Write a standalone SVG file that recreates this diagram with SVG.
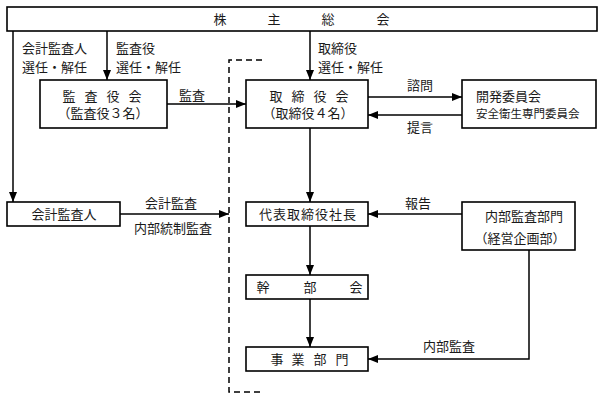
<svg xmlns="http://www.w3.org/2000/svg" width="603" height="400" viewBox="0 0 603 400">
<defs>
<marker id="ah" markerUnits="userSpaceOnUse" markerWidth="10" markerHeight="10" viewBox="0 0 10 10" refX="10" refY="5" orient="auto">
<path d="M0,1 L10,5 L0,9 Z" fill="#000"/>
</marker>
</defs>
<style>
.box{fill:#fff;stroke:#000;stroke-width:1.6}
.ln{fill:none;stroke:#000;stroke-width:1.5}
.dash{fill:none;stroke:#000;stroke-width:1.5;stroke-dasharray:6 4}
text{font-family:"Liberation Serif","Noto Sans CJK JP",serif;font-size:13px;fill:#1a1a1a;dominant-baseline:central}
.m{text-anchor:middle}
.s{font-size:11.5px}
</style>
<rect width="603" height="400" fill="#fff"/>
<g id="connectors">
<path class="dash" d="M262,60 H229 V392 H262"/>
<path class="ln" d="M13,31 V202" marker-end="url(#ah)"/>
<path class="ln" d="M107,31 V80" marker-end="url(#ah)"/>
<path class="ln" d="M310,31 V80" marker-end="url(#ah)"/>
<path class="ln" d="M167,104 H246" marker-end="url(#ah)"/>
<path class="ln" d="M368,97 H462" marker-end="url(#ah)"/>
<path class="ln" d="M462,115 H368" marker-end="url(#ah)"/>
<path class="ln" d="M310,128 V202" marker-end="url(#ah)"/>
<path class="ln" d="M120,214 H229" marker-end="url(#ah)"/>
<path class="ln" d="M462,214 H368" marker-end="url(#ah)"/>
<path class="ln" d="M310,226 V275" marker-end="url(#ah)"/>
<path class="ln" d="M310,299 V347" marker-end="url(#ah)"/>
<path class="ln" d="M529,250 V359 H368" marker-end="url(#ah)"/>
<text x="22" y="48">会計監査人</text>
<text x="22" y="67">選任・解任</text>
<text x="116" y="48">監査役</text>
<text x="116" y="67">選任・解任</text>
<text x="318" y="48">取締役</text>
<text x="318" y="67">選任・解任</text>
<text class="m" x="192" y="95">監査</text>
<text class="m" x="420" y="85">諮問</text>
<text class="m" x="420" y="127">提言</text>
<text class="m" x="171" y="203">会計監査</text>
<text class="m" x="173" y="228">内部統制監査</text>
<text class="m" x="418" y="203">報告</text>
<text class="m" x="449" y="346">内部監査</text>
</g>
<g id="shareholders">
<rect class="box" x="7" y="7" width="590" height="24"/>
<text class="m" x="220 274 328 383" y="19">株主総会</text>
</g>
<g id="kansayakukai">
<rect class="box" x="40" y="80" width="127" height="48"/>
<text class="m" x="69 91 113 135" y="96">監査役会</text>
<text class="m" x="103" y="113">（監査役３名）</text>
</g>
<g id="torishimariyakukai">
<rect class="box" x="246" y="80" width="122" height="48"/>
<text class="m" x="276 298 320 342" y="96">取締役会</text>
<text class="m" x="308" y="113">（取締役４名）</text>
</g>
<g id="kaihatsu">
<rect class="box" x="462" y="80" width="134" height="48"/>
<text x="476" y="96">開発委員会</text>
<text class="s" x="476" y="114">安全衛生専門委員会</text>
</g>
<g id="kaikeikansanin">
<rect class="box" x="7" y="202" width="113" height="24"/>
<text class="m" x="64" y="214">会計監査人</text>
</g>
<g id="shacho">
<rect class="box" x="246" y="202" width="122" height="24"/>
<text class="m" x="308" y="214" style="letter-spacing:1px">代表取締役社長</text>
</g>
<g id="naibukansa">
<rect class="box" x="462" y="202" width="113" height="48"/>
<text class="m" x="524" y="216">内部監査部門</text>
<text class="m" x="520" y="238">（経営企画部）</text>
</g>
<g id="kanbukai">
<rect class="box" x="246" y="275" width="122" height="24"/>
<text class="m" x="263 310 356" y="287">幹部会</text>
</g>
<g id="jigyobumon">
<rect class="box" x="246" y="347" width="122" height="24"/>
<text class="m" x="277 298 320 342" y="359">事業部門</text>
</g>
</svg>
